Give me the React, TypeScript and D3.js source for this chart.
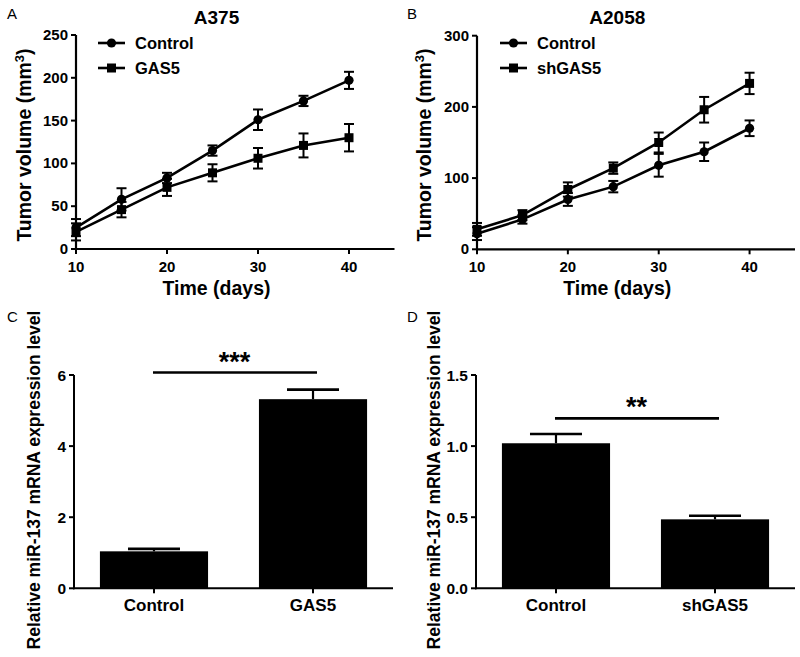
import React from 'react';
import * as d3 from 'd3';

const days = [10, 15, 20, 25, 30, 35, 40];
const a375Control = [25, 58, 83, 115, 151, 173, 197];
const a375ControlErr = [10, 13, 6, 6, 12, 6, 10];
const a375Gas5 = [20, 46, 72, 89, 106, 121, 130];
const a375Gas5Err = [10, 9, 10, 10, 12, 14, 16];
const a2058Control = [22, 42, 70, 88, 118, 137, 170];
const a2058ControlErr = [9, 6, 9, 8, 16, 13, 11];
const a2058ShGas5 = [28, 48, 84, 114, 150, 196, 233];
const a2058ShGas5Err = [9, 7, 10, 8, 14, 18, 15];
const xTicks = [10, 20, 30, 40];
const aYTicks = [0, 50, 100, 150, 200, 250];
const bYTicks = [0, 100, 200, 300];

const cCats = ['Control', 'GAS5'];
const cValues = [1.04, 5.32];
const cErr = [0.07, 0.27];
const cYTicks = [0, 2, 4, 6];
const dCats = ['Control', 'shGAS5'];
const dValues = [1.02, 0.485];
const dErr = [0.065, 0.025];
const dYTicks = [0, 0.5, 1.0, 1.5];

const FONT = "'Liberation Sans', Arial, sans-serif";

type Series = { name: string; values: number[]; errs: number[]; symbol: 'circle' | 'square' };

function Marker({ x, y, symbol }: { x: number; y: number; symbol: string }) {
  if (symbol === 'circle') return <circle cx={x} cy={y} r={4.6} fill="#000" />;
  return <rect x={x - 4.5} y={y - 4.5} width={9} height={9} fill="#000" />;
}

function LinePanel(props: {
  left: number; right: number; top: number; bottom: number; yMax: number; yTicks: number[];
  series: Series[]; title: string; letter: string; letterX: number; ylabelX: number; legendX: number;
}) {
  const { left, right, top, bottom, yMax, yTicks, series, title, letter, letterX, ylabelX, legendX } = props;
  const x = d3.scaleLinear().domain([10, 45]).range([left, right]);
  const y = d3.scaleLinear().domain([0, yMax]).range([bottom, top]);
  const line = d3.line<number>().x((_, i) => x(days[i])).y(d => y(d));
  const midX = (x(10) + x(40)) / 2 + 4;
  return (
    <g fontFamily={FONT}>
      <text x={letterX} y={19} fontSize={15}>{letter}</text>
      <text x={midX} y={24} fontSize={19} fontWeight="bold" textAnchor="middle">{title}</text>
      <line x1={left} x2={left} y1={top} y2={bottom + 1} stroke="#000" strokeWidth={2.2} />
      <line x1={left - 1} x2={right} y1={bottom} y2={bottom} stroke="#000" strokeWidth={2.2} />
      {yTicks.map(t => (
        <g key={'y' + t}>
          <line x1={left - 5} x2={left} y1={y(t)} y2={y(t)} stroke="#000" strokeWidth={2} />
          <text x={left - 8} y={y(t) + 5} fontSize={15} fontWeight="bold" textAnchor="end">{t}</text>
        </g>
      ))}
      {xTicks.map(t => (
        <g key={'x' + t}>
          <line x1={x(t)} x2={x(t)} y1={bottom} y2={bottom + 5} stroke="#000" strokeWidth={2} />
          <text x={x(t)} y={bottom + 23} fontSize={15} fontWeight="bold" textAnchor="middle">{t}</text>
        </g>
      ))}
      <text x={midX} y={295} fontSize={19.5} fontWeight="bold" textAnchor="middle">Time (days)</text>
      <text transform={`translate(${ylabelX},145) rotate(-90)`} fontSize={19.5} fontWeight="bold" textAnchor="middle">
        Tumor volume (mm<tspan dy={-7} fontSize={13}>3</tspan><tspan dy={7}>)</tspan>
      </text>
      {series.map((s, si) => (
        <g key={s.name}>
          <path d={line(s.values) || ''} fill="none" stroke="#000" strokeWidth={2.6} />
          {s.values.map((v, i) => {
            const cx = x(days[i]);
            return (
              <g key={i}>
                <line x1={cx} x2={cx} y1={y(v - s.errs[i])} y2={y(v + s.errs[i])} stroke="#000" strokeWidth={2} />
                <line x1={cx - 5} x2={cx + 5} y1={y(v - s.errs[i])} y2={y(v - s.errs[i])} stroke="#000" strokeWidth={2} />
                <line x1={cx - 5} x2={cx + 5} y1={y(v + s.errs[i])} y2={y(v + s.errs[i])} stroke="#000" strokeWidth={2} />
                <Marker x={cx} y={y(v)} symbol={s.symbol} />
              </g>
            );
          })}
          <g>
            <line x1={legendX} x2={legendX + 27} y1={43 + si * 25} y2={43 + si * 25} stroke="#000" strokeWidth={2.6} />
            <Marker x={legendX + 13.5} y={43 + si * 25} symbol={s.symbol} />
            <text x={legendX + 37} y={49 + si * 25} fontSize={16.5} fontWeight="bold">{s.name}</text>
          </g>
        </g>
      ))}
    </g>
  );
}

function BarPanel(props: {
  left: number; right: number; top: number; bottom: number; yMax: number; yTicks: number[];
  cats: string[]; values: number[]; errs: number[]; letter: string; letterX: number; ylabelX: number;
  sigY: number; stars: string; fmt: (n: number) => string;
}) {
  const { left, right, top, bottom, yMax, yTicks, cats, values, errs, letter, letterX, ylabelX, sigY, stars, fmt } = props;
  const x = d3.scaleBand<string>().domain(cats).range([left, right]).paddingInner(0.32).paddingOuter(0.163);
  const y = d3.scaleLinear().domain([0, yMax]).range([bottom, top]);
  const bw = x.bandwidth();
  const c0 = (x(cats[0]) || 0) + bw / 2;
  const c1 = (x(cats[1]) || 0) + bw / 2;
  return (
    <g fontFamily={FONT}>
      <text x={letterX} y={322} fontSize={15}>{letter}</text>
      {cats.map((c, i) => {
        const bx = x(c) || 0;
        const cx = bx + bw / 2;
        return (
          <g key={c}>
            <rect x={bx} y={y(values[i])} width={bw} height={bottom - y(values[i])} fill="#000" />
            <line x1={cx} x2={cx} y1={y(values[i])} y2={y(values[i] + errs[i])} stroke="#000" strokeWidth={2.2} />
            <line x1={cx - 26} x2={cx + 26} y1={y(values[i] + errs[i])} y2={y(values[i] + errs[i])} stroke="#000" strokeWidth={2.6} />
            <line x1={cx} x2={cx} y1={bottom} y2={bottom + 5} stroke="#000" strokeWidth={2} />
            <text x={cx} y={611} fontSize={17} fontWeight="bold" textAnchor="middle">{c}</text>
          </g>
        );
      })}
      <line x1={left} x2={left} y1={top} y2={bottom + 1} stroke="#000" strokeWidth={2} />
      <line x1={left - 1} x2={right} y1={bottom} y2={bottom} stroke="#000" strokeWidth={2} />
      {yTicks.map(t => (
        <g key={'y' + t}>
          <line x1={left - 5} x2={left} y1={y(t)} y2={y(t)} stroke="#000" strokeWidth={2} />
          <text x={left - 8} y={y(t) + 5.5} fontSize={15.5} fontWeight="bold" textAnchor="end">{fmt(t)}</text>
        </g>
      ))}
      <text transform={`translate(${ylabelX},480) rotate(-90)`} fontSize={17.5} fontWeight="bold" textAnchor="middle">
        Relative miR-137 mRNA expression level
      </text>
      <line x1={c0 - 1} x2={c1 + 4} y1={y(sigY)} y2={y(sigY)} stroke="#000" strokeWidth={2.6} />
      <text x={(c0 + c1) / 2 + 1} y={y(sigY) - 2} fontSize={27} fontWeight="bold" textAnchor="middle">{stars}</text>
    </g>
  );
}

export default function App() {
  return (
    <svg width={800} height={657} style={{ position: 'absolute', left: 0, top: 0, background: '#fff' }}>
      <rect width={800} height={657} fill="#fff" />
      <LinePanel left={76} right={394.5} top={35} bottom={249} yMax={250} yTicks={aYTicks}
        series={[
          { name: 'Control', values: a375Control, errs: a375ControlErr, symbol: 'circle' },
          { name: 'GAS5', values: a375Gas5, errs: a375Gas5Err, symbol: 'square' },
        ]}
        title="A375" letter="A" letterX={7} ylabelX={31} legendX={98} />
      <LinePanel left={477} right={795} top={35.7} bottom={249.3} yMax={300} yTicks={bYTicks}
        series={[
          { name: 'Control', values: a2058Control, errs: a2058ControlErr, symbol: 'circle' },
          { name: 'shGAS5', values: a2058ShGas5, errs: a2058ShGas5Err, symbol: 'square' },
        ]}
        title="A2058" letter="B" letterX={407} ylabelX={431} legendX={500} />
      <BarPanel left={74} right={393} top={375} bottom={588.3} yMax={6} yTicks={cYTicks}
        cats={cCats} values={cValues} errs={cErr} letter="C" letterX={7} ylabelX={40}
        sigY={6.07} stars="***" fmt={d => String(d)} />
      <BarPanel left={476} right={795} top={375} bottom={588.3} yMax={1.5} yTicks={dYTicks}
        cats={dCats} values={dValues} errs={dErr} letter="D" letterX={407} ylabelX={440}
        sigY={1.195} stars="**" fmt={d => d.toFixed(1)} />
    </svg>
  );
}
